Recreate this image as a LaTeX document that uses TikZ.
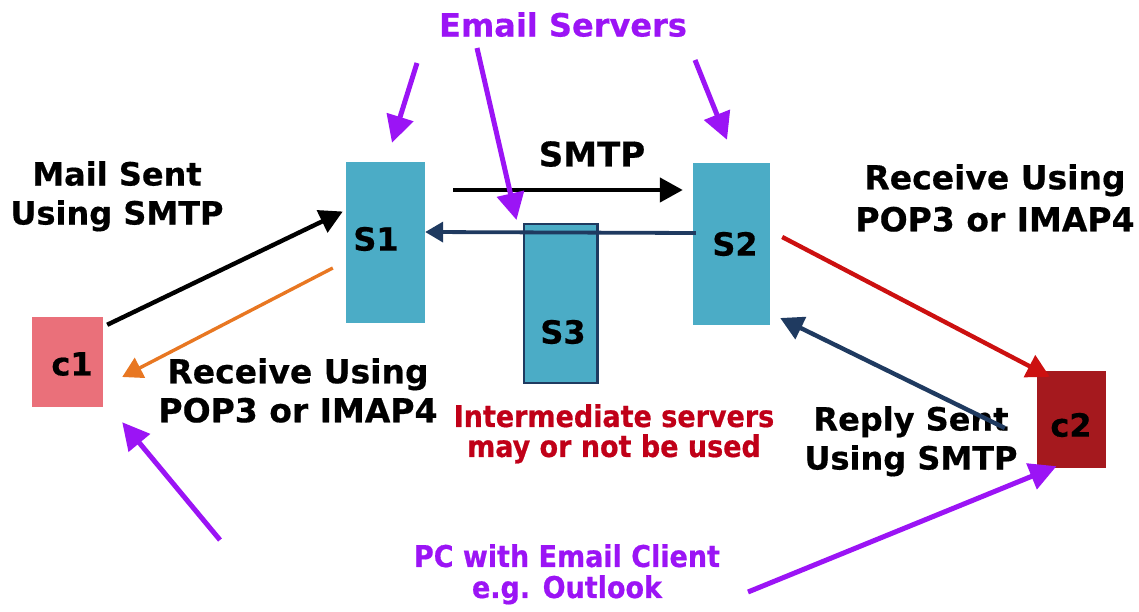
\documentclass[tikz,border=0pt]{standalone}
\usepackage{fontspec}
\setmainfont{DejaVu Sans}[BoldFeatures={FakeBold=0.5}]
\newfontfamily\condfont{DejaVu Sans Condensed}[BoldFeatures={FakeBold=0.6}]
\usetikzlibrary{arrows.meta,calc}
\definecolor{boxteal}{RGB}{75,172,198}
\definecolor{cpink}{RGB}{234,112,122}
\definecolor{cdred}{RGB}{165,25,30}
\definecolor{purp}{RGB}{155,20,245}
\definecolor{dblue}{RGB}{31,58,96}
\definecolor{orng}{RGB}{232,119,34}
\definecolor{arred}{RGB}{204,16,16}
\definecolor{txtred}{RGB}{192,0,24}
\tikzset{
  srv/.style={fill=boxteal, minimum width=79pt, minimum height=161pt, inner sep=0},
  boxlbl/.style={font=\bfseries\fontsize{32}{38}\selectfont, inner sep=0},
  lbl/.style={font=\bfseries\fontsize{32}{39}\selectfont, align=center, inner sep=0, anchor=north},
  condlbl/.style={font=\condfont\bfseries\fontsize{30}{30}\selectfont, align=center, inner sep=0, anchor=north},
  arr/.style={line width=4.4pt, -{Triangle[length=23pt,width=24pt]}},
  parr/.style={purp, line width=5pt, -{Triangle[length=27pt,width=27pt]}},
}
\begin{document}
\begin{tikzpicture}[x=1pt,y=-1pt]
\useasboundingbox (0,0) rectangle (1139,612);
% boxes
\node[srv] (S1) at (385.5,242.5) {};
\node[srv, minimum width=77pt, minimum height=162pt] (S2) at (731.5,244) {};
\node[srv, draw=dblue, line width=2.5pt, minimum width=73.5pt, minimum height=158.5pt] (S3) at (560.5,303.5) {};
\node[fill=cpink, minimum width=71pt, minimum height=90pt, inner sep=0] (c1) at (67.5,362) {};
\node[fill=cdred, minimum width=69pt, minimum height=97pt, inner sep=0] (c2) at (1071.5,419.5) {};
% box labels
\node[boxlbl] (S1t) at (376,239) {S1};
\node[boxlbl] (S2t) at (735,244) {S2};
\node[boxlbl] (S3t) at (563,332) {S3};
\node[boxlbl] (c1t) at (72,364) {c1};
\node[boxlbl] (c2t) at (1071,425) {c2};
% text labels
\node[lbl, text=purp] (es) at (563,12) {Email Servers};
\node[lbl, font=\bfseries\fontsize{34}{40}\selectfont] (smtp) at (592,141) {SMTP};
\node[lbl] (mail) at (117,161) {Mail Sent\\Using SMTP};
\node[lbl, font=\bfseries\fontsize{33}{39}\selectfont] (recvL) at (298,358) {Receive Using\\POP3 or IMAP4};
\node[lbl, font=\bfseries\fontsize{33}{42}\selectfont] (recvR) at (995,164) {Receive Using\\POP3 or IMAP4};
\node[lbl] (reply) at (911,406) {Reply Sent\\Using SMTP};
\node[condlbl, text=txtred] (inter) at (614,404) {Intermediate servers\\may or not be used};
\node[condlbl, text=purp, font=\condfont\bfseries\fontsize{30}{31}\selectfont] (pc) at (567,544) {PC with Email Client\\e.g. Outlook};
% purple free ends
\coordinate (p1) at (417,63);
\coordinate (p2) at (477,48);
\coordinate (p3) at (695,60);
\coordinate (p4) at (220,540);
\coordinate (p5) at (748,592);
% connectors
\draw[arr, black] ($(c1.north east)+(4,8)$) -- ($(S1.west)+(-3,-31)$);
\draw[arr, orng, line width=3.4pt, -{Triangle[length=20pt,width=22pt]}] ($(S1.west)+(-13,25.5)$) -- ($(c1.east)+(19,15)$);
\draw[arr, black] ($(S1.east)+(28,-52.5)$) -- ($(S2.west)+(-10,-54)$);
\draw[arr, dblue, line width=3.8pt, -{Triangle[length=18pt,width=20pt]}] ($(S2.west)+(3,-11)$) -- ($(S1.east)+(0,-10.5)$);
\draw[arr, arred] ($(S2.east)+(12,-7)$) -- ($(c2.north west)+(13,6)$);
\draw[arr, dblue] ($(c2.west)+(-32,8.5)$) -- ($(S2.east)+(10,74)$);
\draw[parr] (p1) -- ($(S1.north)+(6.5,-19)$);
\draw[parr] (p2) -- ($(S3.north west)+(-6,-3)$);
\draw[parr] (p3) -- ($(S2.north)+(-4.5,-23)$);
\draw[parr] (p4) -- ($(c1.south east)+(19,15)$);
\draw[parr] (p5) -- ($(c2.south)+(-15,-2)$);
\end{tikzpicture}
\end{document}
